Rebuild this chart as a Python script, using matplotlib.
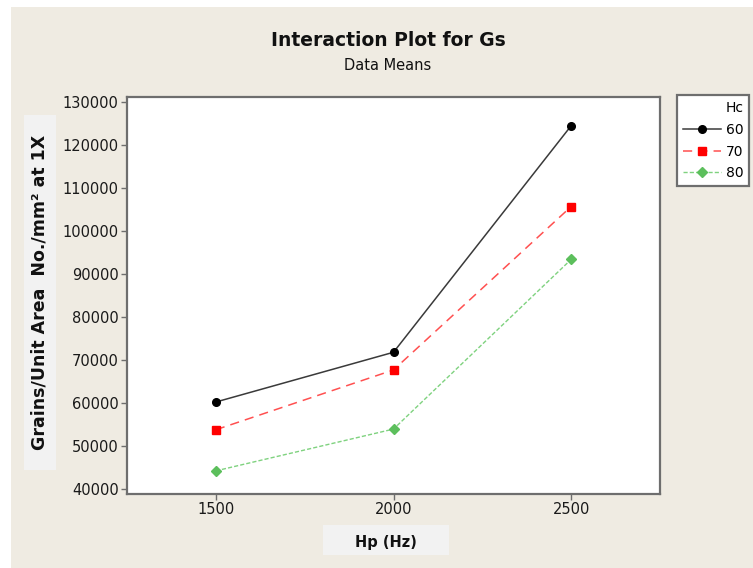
import matplotlib
matplotlib.use('Agg')

import matplotlib.pyplot as plt
from matplotlib.patches import Rectangle
from matplotlib.lines import Line2D

# Medias por nivel de Hp (Hz) e Hc
hp = [1500, 2000, 2500]
hc_levels = ['60', '70', '80']
gs_60 = [60230, 71800, 124480]
gs_70 = [53780, 67690, 105690]
gs_80 = [44220, 53940, 93400]

bg = '#EFEBE2'
spine_color = '#6E6E6E'

# estilos de cada serie (linhas e legenda)
style_60 = dict(color='#3A3A3A', linestyle='-', linewidth=1.1, marker='o', markersize=5.5,
                markerfacecolor='black', markeredgecolor='black')
style_70 = dict(color='#FF5050', linestyle=(0, (6, 4)), linewidth=1.1, marker='s', markersize=6,
                markerfacecolor='#FF0000', markeredgecolor='#FF0000')
style_80 = dict(color='#7FD27F', linestyle=(0, (3, 1.5)), linewidth=1.0, marker='D', markersize=5,
                markerfacecolor='#5CBF5C', markeredgecolor='#5CBF5C')

fig = plt.figure(figsize=(7.53, 5.68), dpi=100, facecolor='white')

# fundo bege (faixa branca a esquerda e no topo)
fig.patches.append(Rectangle((11 / 753, 0), 1, 1 - 7 / 568, transform=fig.transFigure,
                             facecolor=bg, edgecolor='none', zorder=-10))

ax = fig.add_axes([127 / 753, 1 - 494 / 568, (660 - 127) / 753, (494 - 97) / 568])
ax.set_facecolor('white')

ax.plot(hp, gs_60, **style_60)
ax.plot(hp, gs_70, **style_70)
ax.plot(hp, gs_80, **style_80)

ax.set_xlim(1250, 2750)
ax.set_ylim(38840, 131160)
ax.set_xticks(hp)
ax.set_yticks(range(40000, 130001, 10000))
ax.tick_params(axis='both', direction='out', length=4, width=1, color=spine_color,
               labelsize=10.5, labelcolor='#1A1A1A', pad=2)
for s in ax.spines.values():
    s.set_color(spine_color)
    s.set_linewidth(1.6)

# titulos
fig.text(388 / 753, 1 - 40 / 568, 'Interaction Plot for Gs', ha='center', va='center',
         fontsize=13.5, fontweight='bold', color='#111111')
fig.text(388 / 753, 1 - 66 / 568, 'Data Means', ha='center', va='center',
         fontsize=10.5, color='#111111')

# rotulos dos eixos com caixa cinza clara
fig.patches.append(Rectangle((24 / 753, 1 - 470 / 568), 32 / 753, 355 / 568,
                             transform=fig.transFigure, facecolor='#F2F2F2',
                             edgecolor='none', zorder=-5))
fig.text(40 / 753, 1 - 292 / 568, 'Grains/Unit Area  No./mm² at 1X', rotation=90,
         ha='center', va='center', fontsize=12.5, fontweight='bold', color='#111111')

fig.patches.append(Rectangle((323 / 753, 1 - 555 / 568), 126 / 753, 30 / 568,
                             transform=fig.transFigure, facecolor='#F2F2F2',
                             edgecolor='none', zorder=-5))
fig.text(386 / 753, 1 - 542 / 568, 'Hp (Hz)', ha='center', va='center',
         fontsize=10.5, fontweight='bold', color='#111111')

# legenda
handles = [Line2D([], [], **style_60), Line2D([], [], **style_70), Line2D([], [], **style_80)]
leg = fig.legend(handles, hc_levels, title='Hc', loc='upper left',
                 bbox_to_anchor=(677 / 753, 1 - 95 / 568), bbox_transform=fig.transFigure,
                 fancybox=False, framealpha=1, edgecolor=spine_color, facecolor='white',
                 fontsize=10, title_fontsize=10, handlelength=2.7, handletextpad=0.35,
                 borderpad=0.45, borderaxespad=0, labelspacing=0.55, alignment='right')
leg.get_frame().set_linewidth(1.6)

fig.savefig('out.png', dpi=100, facecolor=fig.get_facecolor())
